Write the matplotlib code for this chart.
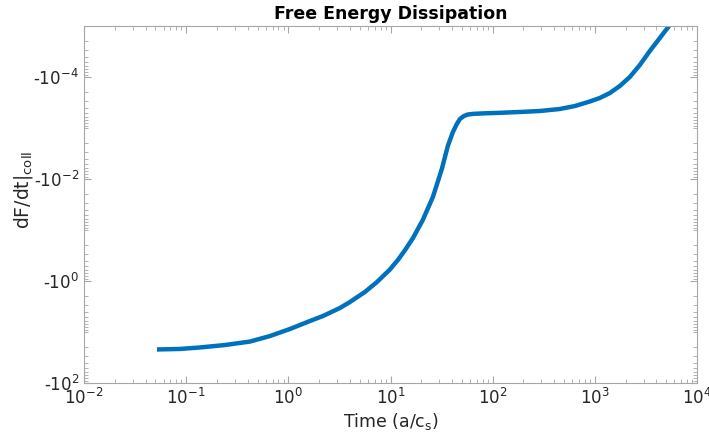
import numpy as np
import matplotlib
matplotlib.use("Agg")
import matplotlib.pyplot as plt
from matplotlib.ticker import LogLocator, FixedLocator, FuncFormatter, NullFormatter

# Data (time in a/c_s, dF/dt|coll is negative)
time = [0.0518, 0.0870, 0.1365, 0.2396, 0.421, 0.661, 1.037, 1.627, 2.18,
        3.20, 4.01, 5.62, 7.36, 8.62, 9.87, 11.8, 13.8, 16.6, 20.7, 26.0, 31.8,
        36.4, 40.8, 44.6, 47.8, 52.3, 57.2, 65.5, 83.9, 118, 185, 290, 454,
        637, 894, 1119, 1402, 1757, 2200, 2756, 3453, 4325, 5420]
dFdt = [-22.0, -21.5, -20.1, -18.0, -15.4, -12.0, -8.73, -6.09, -4.86,
        -3.38, -2.58, -1.64, -1.05, -0.773, -0.595, -0.388, -0.252, -0.1435,
        -0.0637, -0.0225, -0.00637, -0.00225, -0.00120, -8.35e-4, -6.67e-4,
        -5.82e-4, -5.43e-4, -5.27e-4, -5.15e-4, -5.04e-4, -4.85e-4, -4.64e-4,
        -4.24e-4, -3.71e-4, -3.02e-4, -2.58e-4, -2.06e-4, -1.50e-4, -1.0e-4,
        -5.82e-5, -3.09e-5, -1.72e-5, -9.55e-6]

xticks = [1e-2, 1e-1, 1e0, 1e1, 1e2, 1e3, 1e4]
yticks_mag = [1e-4, 1e-2, 1e0, 1e2]

fig = plt.figure(figsize=(7.09, 4.42), dpi=100)
ax = fig.add_axes([84/709, 1-383/442, (697-84)/709, (383-26)/442])

mag = [-v for v in dFdt]
ax.plot(time, mag, color="#0072BD", lw=3.2, solid_capstyle="butt",
        solid_joinstyle="round")

ax.set_xscale("log")
ax.set_yscale("log")
ax.set_xlim(1e-2, 1e4)
ax.set_ylim(1e2, 1e-5)  # inverted: magnitude grows downward (more negative)

ax.xaxis.set_major_locator(FixedLocator(xticks))
ax.xaxis.set_minor_locator(LogLocator(base=10, subs=np.arange(1, 10), numticks=100))
ax.xaxis.set_major_formatter(FuncFormatter(lambda v, p: r"10$^{%d}$" % round(np.log10(v))))
ax.xaxis.set_minor_formatter(NullFormatter())

ax.yaxis.set_major_locator(FixedLocator(yticks_mag))
ax.yaxis.set_minor_locator(LogLocator(base=10, subs=np.arange(1, 10), numticks=100))
ax.yaxis.set_major_formatter(FuncFormatter(lambda v, p: r"-10$^{%d}$" % round(np.log10(v))))
ax.yaxis.set_minor_formatter(NullFormatter())

edge = "#a6a6a6"
for s in ax.spines.values():
    s.set_color(edge)
    s.set_linewidth(0.8)
ax.tick_params(which="both", direction="in", top=True, right=True, color=edge,
               labelcolor="#262626", labelsize=12)
ax.tick_params(which="major", length=5, width=0.8)
ax.tick_params(which="minor", length=3, width=0.6)

ax.set_title("Free Energy Dissipation", fontsize=12.5, fontweight="bold", pad=5)
ax.set_xlabel("Time (a/c$_{\\mathrm{s}}$)", fontsize=12.5, color="#262626", labelpad=2)
ax.set_ylabel("dF/dt|$_{\\mathrm{coll}}$", fontsize=13.5, color="#262626")
ax.yaxis.set_label_coords((35-84)/613, (383-190)/357)

fig.savefig("out.png", dpi=100)
